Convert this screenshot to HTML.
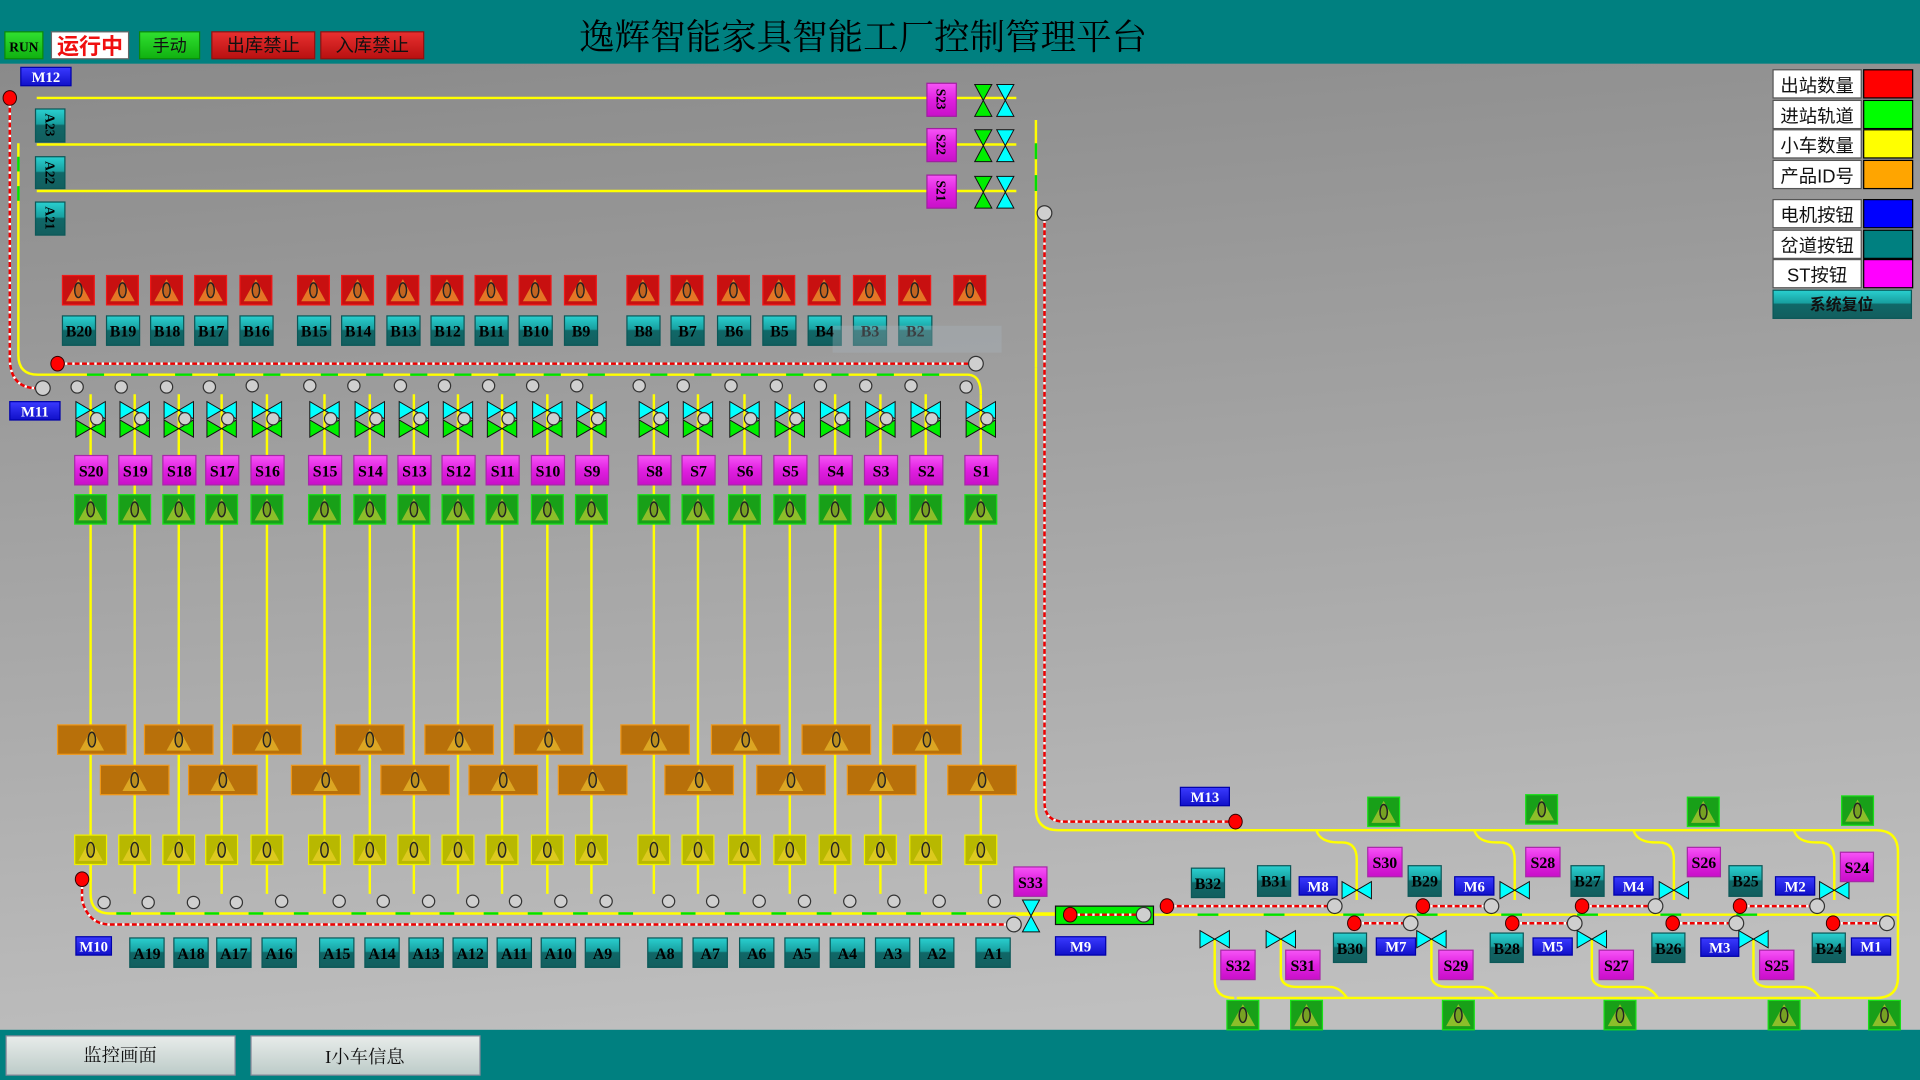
<!DOCTYPE html>
<html><head><meta charset="utf-8"><style>
html,body{margin:0;padding:0;width:1920px;height:1080px;overflow:hidden;background:#888}
svg{display:block}
.t{font-family:"Liberation Serif","Noto Serif CJK SC",serif;font-weight:bold;font-size:13px;text-anchor:middle;fill:#000}
.w{fill:#fff}
.c{font-family:"Liberation Sans","Noto Sans CJK SC",sans-serif;font-size:15px;text-anchor:middle;fill:#111}
</style></head><body>
<svg width="1920" height="1080" viewBox="0 0 1568 882" xmlns="http://www.w3.org/2000/svg">
<defs>
<linearGradient id="bg" x1="0" y1="0" x2="0.15" y2="1"><stop offset="0" stop-color="#878787"/><stop offset="1" stop-color="#bfbfbf"/></linearGradient>
<linearGradient id="gt" x1="0" y1="0" x2="0" y2="1"><stop offset="0" stop-color="#2ad0d0"/><stop offset="0.45" stop-color="#18a0a0"/><stop offset="0.5" stop-color="#106868"/><stop offset="1" stop-color="#125e5e"/></linearGradient>
<linearGradient id="gm" x1="0" y1="0" x2="0" y2="1"><stop offset="0" stop-color="#f655f6"/><stop offset="0.5" stop-color="#e020e0"/><stop offset="1" stop-color="#c810c8"/></linearGradient>
<linearGradient id="gb" x1="0" y1="0" x2="0" y2="1"><stop offset="0" stop-color="#3a3aff"/><stop offset="1" stop-color="#1010c8"/></linearGradient>
<linearGradient id="gg" x1="0" y1="0" x2="0" y2="1"><stop offset="0" stop-color="#30e030"/><stop offset="1" stop-color="#10b010"/></linearGradient>
<linearGradient id="gr" x1="0" y1="0" x2="0" y2="1"><stop offset="0" stop-color="#e83030"/><stop offset="1" stop-color="#b81010"/></linearGradient>
<linearGradient id="gw" x1="0" y1="0" x2="0" y2="1"><stop offset="0" stop-color="#e8ecea"/><stop offset="1" stop-color="#bccbc8"/></linearGradient>
<g id="ic"><polygon points="0,-9 -10,9 10,9" fill="rgba(255,220,60,0.5)"/><ellipse cx="0" cy="0" rx="3" ry="6" fill="rgba(0,0,0,0.15)" stroke="#222" stroke-width="1.2"/></g>
<g id="rb"><rect x="-13" y="-12" width="26" height="24" fill="#c81010" stroke="#f01818"/><use href="#ic"/></g>
<g id="gb2"><rect x="-13" y="-12" width="26" height="24" fill="#18a018" stroke="#18e018"/><use href="#ic"/></g>
<g id="yb"><rect x="-13" y="-12" width="26" height="24" fill="#b8b800" stroke="#f0f000"/><use href="#ic"/></g>
<g id="ob"><rect x="-28" y="-12" width="56" height="24" fill="#b8700a" stroke="#f09818"/><use href="#ic"/></g>
<g id="vc"><polygon points="-12,-7 -12,7 0,0" fill="#00ffff" stroke="#111" stroke-width="0.8"/><polygon points="12,-7 12,7 0,0" fill="#00ffff" stroke="#111" stroke-width="0.8"/></g>
<g id="vg"><polygon points="-12,-7 -12,7 0,0" fill="#00ee00" stroke="#111" stroke-width="0.8"/><polygon points="12,-7 12,7 0,0" fill="#00ee00" stroke="#111" stroke-width="0.8"/></g>
<g id="hg"><polygon points="-7,-13 7,-13 0,0" fill="#00ee00" stroke="#111" stroke-width="0.8"/><polygon points="-7,13 7,13 0,0" fill="#00ee00" stroke="#111" stroke-width="0.8"/></g>
<g id="hc"><polygon points="-7,-13 7,-13 0,0" fill="#00ffff" stroke="#111" stroke-width="0.8"/><polygon points="-7,13 7,13 0,0" fill="#00ffff" stroke="#111" stroke-width="0.8"/></g>
<g id="gc"><circle r="5" fill="#cfcfcf" stroke="#333" stroke-width="1"/></g>
<g id="gC"><circle r="6" fill="#cfcfcf" stroke="#333" stroke-width="1"/></g>
<g id="rd"><ellipse rx="5.5" ry="6" fill="#f00" stroke="#300" stroke-width="0.8"/></g>
</defs>

<!-- background -->
<rect x="0" y="0" width="1568" height="882" fill="url(#bg)"/>
<rect x="0" y="0" width="1568" height="52" fill="#008080"/>
<rect x="0" y="841" width="1568" height="41" fill="#008080"/>

<!-- header -->
<rect x="4" y="26" width="31" height="22" fill="url(#gg)" stroke="#0a8a0a"/>
<text x="19.5" y="42" class="t" style="font-size:11px">RUN</text>
<rect x="42" y="26" width="63" height="22" fill="#fff" stroke="#666"/>
<text x="73.5" y="44" style="font-family:'Liberation Sans','Noto Sans CJK SC',sans-serif;font-size:18px;font-weight:bold;fill:#f01010;text-anchor:middle">运行中</text>
<rect x="114" y="26" width="49" height="22" fill="url(#gg)" stroke="#0a8a0a"/>
<text x="138.5" y="42" class="c" style="font-size:14px">手动</text>
<rect x="173" y="26" width="84" height="22" fill="url(#gr)" stroke="#901010"/>
<text x="215" y="42" class="c" style="font-size:15px">出库禁止</text>
<rect x="262" y="26" width="84" height="22" fill="url(#gr)" stroke="#901010"/>
<text x="304" y="42" class="c" style="font-size:15px">入库禁止</text>
<text x="473" y="40" style="font-family:'Noto Serif CJK SC','WenQuanYi Zen Hei',serif;font-size:29px;fill:#000">逸辉智能家具智能工厂控制管理平台</text>

<!-- bottom buttons -->
<rect x="5" y="846" width="187" height="32" fill="url(#gw)" stroke="#889"/>
<text x="98" y="867" class="c" style="font-family:'Noto Serif CJK SC',serif">监控画面</text>
<rect x="205" y="846" width="187" height="32" fill="url(#gw)" stroke="#889"/>
<text x="298" y="868" class="c" style="font-family:'Liberation Serif','Noto Serif CJK SC',serif">I小车信息</text>

<!-- legend -->
<g stroke="#555" stroke-width="1">
<rect x="1448" y="57" width="72" height="23" fill="#fff"/><rect x="1522" y="57" width="40" height="23" fill="#f00" stroke="#000"/>
<rect x="1448" y="82" width="72" height="23" fill="#fff"/><rect x="1522" y="82" width="40" height="23" fill="#0f0" stroke="#000"/>
<rect x="1448" y="106" width="72" height="23" fill="#fff"/><rect x="1522" y="106" width="40" height="23" fill="#ff0" stroke="#000"/>
<rect x="1448" y="131" width="72" height="23" fill="#fff"/><rect x="1522" y="131" width="40" height="23" fill="#ffa500" stroke="#000"/>
<rect x="1448" y="163" width="72" height="23" fill="#fff"/><rect x="1522" y="163" width="40" height="23" fill="#00f" stroke="#000"/>
<rect x="1448" y="188" width="72" height="23" fill="#fff"/><rect x="1522" y="188" width="40" height="23" fill="#008080" stroke="#000"/>
<rect x="1448" y="212" width="72" height="23" fill="#fff"/><rect x="1522" y="212" width="40" height="23" fill="#f0f" stroke="#000"/>
</g>
<text x="1484" y="75" class="c">出站数量</text>
<text x="1484" y="100" class="c">进站轨道</text>
<text x="1484" y="124" class="c">小车数量</text>
<text x="1484" y="149" class="c">产品ID号</text>
<text x="1484" y="181" class="c">电机按钮</text>
<text x="1484" y="206" class="c">岔道按钮</text>
<text x="1484" y="230" class="c">ST按钮</text>
<rect x="1448" y="237" width="113" height="23" fill="url(#gt)" stroke="#0b5858"/>
<text x="1504" y="253" class="c" style="font-size:13px;font-weight:bold">系统复位</text>

<!-- top-left section lines -->
<g stroke="#ffff00" stroke-width="2" fill="none">
<line x1="30" y1="80" x2="830" y2="80"/><line x1="30" y1="118" x2="830" y2="118"/><line x1="30" y1="156" x2="830" y2="156"/>
<path d="M15 117 V290 Q15 306 31 306 H790 Q801 306 801 322"/>
<line x1="846" y1="98" x2="846" y2="300"/>
</g>
<g stroke="#00e000" stroke-width="2">
<line x1="15" y1="128" x2="15" y2="140"/><line x1="15" y1="152" x2="15" y2="164"/>
<line x1="846" y1="117" x2="846" y2="130"/><line x1="846" y1="143" x2="846" y2="156"/>
</g>
<!-- red dashed top -->
<g fill="none" stroke-width="2">
<path d="M8 80 V292 Q8 317 30 317" stroke="#e00"/>
<path d="M8 80 V292 Q8 317 30 317" stroke="#fff" stroke-dasharray="2 4"/>
<line x1="47" y1="297" x2="797" y2="297" stroke="#e00"/>
<line x1="47" y1="297" x2="797" y2="297" stroke="#fff" stroke-dasharray="2 4"/>
<path d="M853 180 V655 Q853 671 869 671 H1009" stroke="#e00"/>
<path d="M853 180 V655 Q853 671 869 671 H1009" stroke="#fff" stroke-dasharray="2 4"/>
</g>
<use href="#rd" x="8" y="80"/><use href="#gC" x="35" y="317"/><use href="#rd" x="47" y="297"/><use href="#gC" x="797" y="297"/><use href="#gC" x="853" y="174"/>

<rect x="17" y="55" width="41" height="15" fill="url(#gb)" stroke="#00a"/><text x="37.5" y="67" class="t w" style="font-size:12px">M12</text>
<rect x="8" y="328" width="41" height="15" fill="url(#gb)" stroke="#00a"/><text x="28.5" y="340" class="t w" style="font-size:12px">M11</text>

<!-- A21-23 vertical -->
<g><rect x="29" y="89" width="24" height="27" fill="url(#gt)" stroke="#0b5858"/><text class="t" style="font-size:11px" transform="translate(37 102) rotate(90)">A23</text></g>
<g><rect x="29" y="128" width="24" height="26" fill="url(#gt)" stroke="#0b5858"/><text class="t" style="font-size:11px" transform="translate(37 141) rotate(90)">A22</text></g>
<g><rect x="29" y="165" width="24" height="27" fill="url(#gt)" stroke="#0b5858"/><text class="t" style="font-size:11px" transform="translate(37 178) rotate(90)">A21</text></g>
<!-- S21-23 -->
<g><rect x="757" y="68" width="24" height="27" fill="url(#gm)" stroke="#a020a0"/><text class="t" style="font-size:11px" transform="translate(765 81) rotate(90)">S23</text></g>
<g><rect x="757" y="105" width="24" height="27" fill="url(#gm)" stroke="#a020a0"/><text class="t" style="font-size:11px" transform="translate(765 118) rotate(90)">S22</text></g>
<g><rect x="757" y="143" width="24" height="27" fill="url(#gm)" stroke="#a020a0"/><text class="t" style="font-size:11px" transform="translate(765 156) rotate(90)">S21</text></g>
<use href="#hg" x="803" y="82"/><use href="#hc" x="821" y="82"/>
<use href="#hg" x="803" y="119"/><use href="#hc" x="821" y="119"/>
<use href="#hg" x="803" y="157"/><use href="#hc" x="821" y="157"/>

<!-- columns vertical lines -->
<g stroke="#ffff00" stroke-width="2">
<line x1="74" y1="322" x2="74" y2="720"/><line x1="110" y1="322" x2="110" y2="730"/><line x1="146" y1="322" x2="146" y2="730"/><line x1="181" y1="322" x2="181" y2="730"/><line x1="218" y1="322" x2="218" y2="730"/>
<line x1="265" y1="322" x2="265" y2="730"/><line x1="302" y1="322" x2="302" y2="730"/><line x1="338" y1="322" x2="338" y2="730"/><line x1="374" y1="322" x2="374" y2="730"/><line x1="410" y1="322" x2="410" y2="730"/><line x1="447" y1="322" x2="447" y2="730"/><line x1="483" y1="322" x2="483" y2="730"/>
<line x1="534" y1="322" x2="534" y2="730"/><line x1="570" y1="322" x2="570" y2="730"/><line x1="608" y1="322" x2="608" y2="730"/><line x1="645" y1="322" x2="645" y2="730"/><line x1="682" y1="322" x2="682" y2="730"/><line x1="719" y1="322" x2="719" y2="730"/><line x1="756" y1="322" x2="756" y2="730"/><line x1="801" y1="322" x2="801" y2="730"/>
</g>
<!-- green dashes top track -->
<g stroke="#00e000" stroke-width="2">
<line x1="71" y1="306" x2="85" y2="306"/><line x1="107" y1="306" x2="121" y2="306"/><line x1="143" y1="306" x2="157" y2="306"/><line x1="178" y1="306" x2="192" y2="306"/><line x1="215" y1="306" x2="229" y2="306"/>
<line x1="262" y1="306" x2="276" y2="306"/><line x1="299" y1="306" x2="313" y2="306"/><line x1="335" y1="306" x2="349" y2="306"/><line x1="371" y1="306" x2="385" y2="306"/><line x1="407" y1="306" x2="421" y2="306"/><line x1="444" y1="306" x2="458" y2="306"/><line x1="480" y1="306" x2="494" y2="306"/>
<line x1="531" y1="306" x2="545" y2="306"/><line x1="567" y1="306" x2="581" y2="306"/><line x1="605" y1="306" x2="619" y2="306"/><line x1="642" y1="306" x2="656" y2="306"/><line x1="679" y1="306" x2="693" y2="306"/><line x1="716" y1="306" x2="730" y2="306"/><line x1="753" y1="306" x2="767" y2="306"/>
</g>

<!-- red boxes -->
<use href="#rb" x="64" y="237"/><use href="#rb" x="100" y="237"/><use href="#rb" x="136" y="237"/><use href="#rb" x="172" y="237"/><use href="#rb" x="209" y="237"/>
<use href="#rb" x="256" y="237"/><use href="#rb" x="292" y="237"/><use href="#rb" x="329" y="237"/><use href="#rb" x="365" y="237"/><use href="#rb" x="401" y="237"/><use href="#rb" x="437" y="237"/><use href="#rb" x="474" y="237"/>
<use href="#rb" x="525" y="237"/><use href="#rb" x="561" y="237"/><use href="#rb" x="599" y="237"/><use href="#rb" x="636" y="237"/><use href="#rb" x="673" y="237"/><use href="#rb" x="710" y="237"/><use href="#rb" x="747" y="237"/><use href="#rb" x="792" y="237"/>

<!-- B row -->
<g stroke="#0b5858">
<rect x="51" y="258" width="27" height="24" fill="url(#gt)"/><rect x="87" y="258" width="27" height="24" fill="url(#gt)"/><rect x="123" y="258" width="27" height="24" fill="url(#gt)"/><rect x="159" y="258" width="27" height="24" fill="url(#gt)"/><rect x="196" y="258" width="27" height="24" fill="url(#gt)"/>
<rect x="243" y="258" width="27" height="24" fill="url(#gt)"/><rect x="279" y="258" width="27" height="24" fill="url(#gt)"/><rect x="316" y="258" width="27" height="24" fill="url(#gt)"/><rect x="352" y="258" width="27" height="24" fill="url(#gt)"/><rect x="388" y="258" width="27" height="24" fill="url(#gt)"/><rect x="424" y="258" width="27" height="24" fill="url(#gt)"/><rect x="461" y="258" width="27" height="24" fill="url(#gt)"/>
<rect x="512" y="258" width="27" height="24" fill="url(#gt)"/><rect x="548" y="258" width="27" height="24" fill="url(#gt)"/><rect x="586" y="258" width="27" height="24" fill="url(#gt)"/><rect x="623" y="258" width="27" height="24" fill="url(#gt)"/><rect x="660" y="258" width="27" height="24" fill="url(#gt)"/><rect x="697" y="258" width="27" height="24" fill="url(#gt)"/><rect x="734" y="258" width="27" height="24" fill="url(#gt)"/>
</g>
<g class="t">
<text x="64.5" y="275" class="t">B20</text><text x="100.5" y="275" class="t">B19</text><text x="136.5" y="275" class="t">B18</text><text x="172.5" y="275" class="t">B17</text><text x="209.5" y="275" class="t">B16</text>
<text x="256.5" y="275" class="t">B15</text><text x="292.5" y="275" class="t">B14</text><text x="329.5" y="275" class="t">B13</text><text x="365.5" y="275" class="t">B12</text><text x="401.5" y="275" class="t">B11</text><text x="437.5" y="275" class="t">B10</text><text x="474.5" y="275" class="t">B9</text>
<text x="525.5" y="275" class="t">B8</text><text x="561.5" y="275" class="t">B7</text><text x="599.5" y="275" class="t">B6</text><text x="636.5" y="275" class="t">B5</text><text x="673.5" y="275" class="t">B4</text><text x="710.5" y="275" class="t">B3</text><text x="747.5" y="275" class="t">B2</text>
</g>
<rect x="680" y="266" width="138" height="22" fill="#a8b4be" opacity="0.35"/>

<!-- small circles row top -->
<use href="#gc" x="63" y="316"/><use href="#gc" x="99" y="316"/><use href="#gc" x="136" y="316"/><use href="#gc" x="171" y="316"/><use href="#gc" x="206" y="315"/>
<use href="#gc" x="253" y="315"/><use href="#gc" x="289" y="315"/><use href="#gc" x="327" y="315"/><use href="#gc" x="363" y="315"/><use href="#gc" x="399" y="315"/><use href="#gc" x="435" y="315"/><use href="#gc" x="471" y="315"/>
<use href="#gc" x="522" y="315"/><use href="#gc" x="558" y="315"/><use href="#gc" x="597" y="315"/><use href="#gc" x="634" y="315"/><use href="#gc" x="670" y="315"/><use href="#gc" x="707" y="315"/><use href="#gc" x="744" y="315"/><use href="#gc" x="789" y="316"/>

<!-- valves columns -->
<g>
<use href="#vc" x="74" y="335"/><use href="#vg" x="74" y="350"/><use href="#gc" x="79" y="342"/>
<use href="#vc" x="110" y="335"/><use href="#vg" x="110" y="350"/><use href="#gc" x="115" y="342"/>
<use href="#vc" x="146" y="335"/><use href="#vg" x="146" y="350"/><use href="#gc" x="151" y="342"/>
<use href="#vc" x="181" y="335"/><use href="#vg" x="181" y="350"/><use href="#gc" x="186" y="342"/>
<use href="#vc" x="218" y="335"/><use href="#vg" x="218" y="350"/><use href="#gc" x="223" y="342"/>
<use href="#vc" x="265" y="335"/><use href="#vg" x="265" y="350"/><use href="#gc" x="270" y="342"/>
<use href="#vc" x="302" y="335"/><use href="#vg" x="302" y="350"/><use href="#gc" x="307" y="342"/>
<use href="#vc" x="338" y="335"/><use href="#vg" x="338" y="350"/><use href="#gc" x="343" y="342"/>
<use href="#vc" x="374" y="335"/><use href="#vg" x="374" y="350"/><use href="#gc" x="379" y="342"/>
<use href="#vc" x="410" y="335"/><use href="#vg" x="410" y="350"/><use href="#gc" x="415" y="342"/>
<use href="#vc" x="447" y="335"/><use href="#vg" x="447" y="350"/><use href="#gc" x="452" y="342"/>
<use href="#vc" x="483" y="335"/><use href="#vg" x="483" y="350"/><use href="#gc" x="488" y="342"/>
<use href="#vc" x="534" y="335"/><use href="#vg" x="534" y="350"/><use href="#gc" x="539" y="342"/>
<use href="#vc" x="570" y="335"/><use href="#vg" x="570" y="350"/><use href="#gc" x="575" y="342"/>
<use href="#vc" x="608" y="335"/><use href="#vg" x="608" y="350"/><use href="#gc" x="613" y="342"/>
<use href="#vc" x="645" y="335"/><use href="#vg" x="645" y="350"/><use href="#gc" x="650" y="342"/>
<use href="#vc" x="682" y="335"/><use href="#vg" x="682" y="350"/><use href="#gc" x="687" y="342"/>
<use href="#vc" x="719" y="335"/><use href="#vg" x="719" y="350"/><use href="#gc" x="724" y="342"/>
<use href="#vc" x="756" y="335"/><use href="#vg" x="756" y="350"/><use href="#gc" x="761" y="342"/>
<use href="#vc" x="801" y="335"/><use href="#vg" x="801" y="350"/><use href="#gc" x="806" y="342"/>
</g>

<!-- S boxes -->
<g stroke="#a828a8">
<rect x="61" y="372" width="27" height="24" fill="url(#gm)"/><rect x="97" y="372" width="27" height="24" fill="url(#gm)"/><rect x="133" y="372" width="27" height="24" fill="url(#gm)"/><rect x="168" y="372" width="27" height="24" fill="url(#gm)"/><rect x="205" y="372" width="27" height="24" fill="url(#gm)"/>
<rect x="252" y="372" width="27" height="24" fill="url(#gm)"/><rect x="289" y="372" width="27" height="24" fill="url(#gm)"/><rect x="325" y="372" width="27" height="24" fill="url(#gm)"/><rect x="361" y="372" width="27" height="24" fill="url(#gm)"/><rect x="397" y="372" width="27" height="24" fill="url(#gm)"/><rect x="434" y="372" width="27" height="24" fill="url(#gm)"/><rect x="470" y="372" width="27" height="24" fill="url(#gm)"/>
<rect x="521" y="372" width="27" height="24" fill="url(#gm)"/><rect x="557" y="372" width="27" height="24" fill="url(#gm)"/><rect x="595" y="372" width="27" height="24" fill="url(#gm)"/><rect x="632" y="372" width="27" height="24" fill="url(#gm)"/><rect x="669" y="372" width="27" height="24" fill="url(#gm)"/><rect x="706" y="372" width="27" height="24" fill="url(#gm)"/><rect x="743" y="372" width="27" height="24" fill="url(#gm)"/><rect x="788" y="372" width="27" height="24" fill="url(#gm)"/>
</g>
<text x="74.5" y="389" class="t">S20</text><text x="110.5" y="389" class="t">S19</text><text x="146.5" y="389" class="t">S18</text><text x="181.5" y="389" class="t">S17</text><text x="218.5" y="389" class="t">S16</text>
<text x="265.5" y="389" class="t">S15</text><text x="302.5" y="389" class="t">S14</text><text x="338.5" y="389" class="t">S13</text><text x="374.5" y="389" class="t">S12</text><text x="410.5" y="389" class="t">S11</text><text x="447.5" y="389" class="t">S10</text><text x="483.5" y="389" class="t">S9</text>
<text x="534.5" y="389" class="t">S8</text><text x="570.5" y="389" class="t">S7</text><text x="608.5" y="389" class="t">S6</text><text x="645.5" y="389" class="t">S5</text><text x="682.5" y="389" class="t">S4</text><text x="719.5" y="389" class="t">S3</text><text x="756.5" y="389" class="t">S2</text><text x="801.5" y="389" class="t">S1</text>

<!-- green boxes -->
<use href="#gb2" x="74" y="416"/><use href="#gb2" x="110" y="416"/><use href="#gb2" x="146" y="416"/><use href="#gb2" x="181" y="416"/><use href="#gb2" x="218" y="416"/>
<use href="#gb2" x="265" y="416"/><use href="#gb2" x="302" y="416"/><use href="#gb2" x="338" y="416"/><use href="#gb2" x="374" y="416"/><use href="#gb2" x="410" y="416"/><use href="#gb2" x="447" y="416"/><use href="#gb2" x="483" y="416"/>
<use href="#gb2" x="534" y="416"/><use href="#gb2" x="570" y="416"/><use href="#gb2" x="608" y="416"/><use href="#gb2" x="645" y="416"/><use href="#gb2" x="682" y="416"/><use href="#gb2" x="719" y="416"/><use href="#gb2" x="756" y="416"/><use href="#gb2" x="801" y="416"/>

<!-- orange boxes -->
<use href="#ob" x="75" y="604"/><use href="#ob" x="146" y="604"/><use href="#ob" x="218" y="604"/><use href="#ob" x="302" y="604"/><use href="#ob" x="375" y="604"/><use href="#ob" x="448" y="604"/><use href="#ob" x="535" y="604"/><use href="#ob" x="609" y="604"/><use href="#ob" x="683" y="604"/><use href="#ob" x="757" y="604"/>
<use href="#ob" x="110" y="637"/><use href="#ob" x="182" y="637"/><use href="#ob" x="266" y="637"/><use href="#ob" x="339" y="637"/><use href="#ob" x="411" y="637"/><use href="#ob" x="484" y="637"/><use href="#ob" x="571" y="637"/><use href="#ob" x="646" y="637"/><use href="#ob" x="720" y="637"/><use href="#ob" x="802" y="637"/>

<!-- yellow boxes -->
<use href="#yb" x="74" y="694"/><use href="#yb" x="110" y="694"/><use href="#yb" x="146" y="694"/><use href="#yb" x="181" y="694"/><use href="#yb" x="218" y="694"/>
<use href="#yb" x="265" y="694"/><use href="#yb" x="302" y="694"/><use href="#yb" x="338" y="694"/><use href="#yb" x="374" y="694"/><use href="#yb" x="410" y="694"/><use href="#yb" x="447" y="694"/><use href="#yb" x="483" y="694"/>
<use href="#yb" x="534" y="694"/><use href="#yb" x="570" y="694"/><use href="#yb" x="608" y="694"/><use href="#yb" x="645" y="694"/><use href="#yb" x="682" y="694"/><use href="#yb" x="719" y="694"/><use href="#yb" x="756" y="694"/><use href="#yb" x="801" y="694"/>

<!-- bottom track -->
<g fill="none" stroke-width="2">
<path d="M74 706 V730 Q74 746 90 746 H862" stroke="#ff0"/>
<path d="M67 718 V735 Q72 755 90 755 H828" stroke="#e00"/>
<path d="M67 718 V735 Q72 755 90 755 H828" stroke="#fff" stroke-dasharray="2 4"/>
</g>
<g stroke="#00e000" stroke-width="2">
<line x1="95" y1="746" x2="107" y2="746"/><line x1="131" y1="746" x2="143" y2="746"/><line x1="167" y1="746" x2="179" y2="746"/><line x1="203" y1="746" x2="215" y2="746"/><line x1="240" y1="746" x2="252" y2="746"/>
<line x1="287" y1="746" x2="299" y2="746"/><line x1="323" y1="746" x2="335" y2="746"/><line x1="359" y1="746" x2="371" y2="746"/><line x1="395" y1="746" x2="407" y2="746"/><line x1="431" y1="746" x2="443" y2="746"/><line x1="468" y1="746" x2="480" y2="746"/><line x1="505" y1="746" x2="517" y2="746"/>
<line x1="556" y1="746" x2="568" y2="746"/><line x1="592" y1="746" x2="604" y2="746"/><line x1="630" y1="746" x2="642" y2="746"/><line x1="667" y1="746" x2="679" y2="746"/><line x1="704" y1="746" x2="716" y2="746"/><line x1="740" y1="746" x2="752" y2="746"/><line x1="777" y1="746" x2="789" y2="746"/>
</g>
<use href="#rd" x="67" y="718"/>
<use href="#gc" x="85" y="737"/><use href="#gc" x="121" y="737"/><use href="#gc" x="158" y="737"/><use href="#gc" x="193" y="737"/><use href="#gc" x="230" y="736"/>
<use href="#gc" x="277" y="736"/><use href="#gc" x="313" y="736"/><use href="#gc" x="350" y="736"/><use href="#gc" x="386" y="736"/><use href="#gc" x="421" y="736"/><use href="#gc" x="458" y="736"/><use href="#gc" x="495" y="736"/>
<use href="#gc" x="546" y="736"/><use href="#gc" x="582" y="736"/><use href="#gc" x="620" y="736"/><use href="#gc" x="657" y="736"/><use href="#gc" x="694" y="736"/><use href="#gc" x="730" y="736"/><use href="#gc" x="767" y="736"/><use href="#gc" x="812" y="736"/>
<use href="#gC" x="828" y="755"/>

<rect x="62" y="765" width="29" height="15" fill="url(#gb)" stroke="#00a"/><text x="76.5" y="777" class="t w" style="font-size:12px">M10</text>

<!-- A row -->
<g stroke="#0b5858">
<rect x="106" y="766" width="28" height="24" fill="url(#gt)"/><rect x="142" y="766" width="28" height="24" fill="url(#gt)"/><rect x="177" y="766" width="28" height="24" fill="url(#gt)"/><rect x="214" y="766" width="28" height="24" fill="url(#gt)"/>
<rect x="261" y="766" width="28" height="24" fill="url(#gt)"/><rect x="298" y="766" width="28" height="24" fill="url(#gt)"/><rect x="334" y="766" width="28" height="24" fill="url(#gt)"/><rect x="370" y="766" width="28" height="24" fill="url(#gt)"/><rect x="406" y="766" width="28" height="24" fill="url(#gt)"/><rect x="442" y="766" width="28" height="24" fill="url(#gt)"/><rect x="478" y="766" width="28" height="24" fill="url(#gt)"/>
<rect x="529" y="766" width="28" height="24" fill="url(#gt)"/><rect x="566" y="766" width="28" height="24" fill="url(#gt)"/><rect x="604" y="766" width="28" height="24" fill="url(#gt)"/><rect x="641" y="766" width="28" height="24" fill="url(#gt)"/><rect x="678" y="766" width="28" height="24" fill="url(#gt)"/><rect x="715" y="766" width="28" height="24" fill="url(#gt)"/><rect x="751" y="766" width="28" height="24" fill="url(#gt)"/><rect x="797" y="766" width="28" height="24" fill="url(#gt)"/>
</g>
<text x="120" y="783" class="t">A19</text><text x="156" y="783" class="t">A18</text><text x="191" y="783" class="t">A17</text><text x="228" y="783" class="t">A16</text>
<text x="275" y="783" class="t">A15</text><text x="312" y="783" class="t">A14</text><text x="348" y="783" class="t">A13</text><text x="384" y="783" class="t">A12</text><text x="420" y="783" class="t">A11</text><text x="456" y="783" class="t">A10</text><text x="492" y="783" class="t">A9</text>
<text x="543" y="783" class="t">A8</text><text x="580" y="783" class="t">A7</text><text x="618" y="783" class="t">A6</text><text x="655" y="783" class="t">A5</text><text x="692" y="783" class="t">A4</text><text x="729" y="783" class="t">A3</text><text x="765" y="783" class="t">A2</text><text x="811" y="783" class="t">A1</text>

<!-- right section yellow -->
<g stroke="#ffff00" stroke-width="2" fill="none">
<path d="M846 300 V660 Q846 678 864 678 H1532 Q1550 678 1550 696 V798 Q1550 815 1532 815 H1010"/>
<line x1="942" y1="747" x2="1550" y2="747"/>
<path d="M1075 678 Q1078 688 1093 688 H1096 Q1108 688 1108 702 V735"/>
<path d="M1204 678 Q1207 688 1222 688 H1225 Q1237 688 1237 702 V735"/>
<path d="M1334 678 Q1337 688 1352 688 H1355 Q1367 688 1367 702 V735"/>
<path d="M1465 678 Q1468 688 1483 688 H1486 Q1498 688 1498 702 V735"/>
<path d="M992 767 V800 Q992 815 1008 815"/>
<path d="M1046 767 V796 Q1046 806 1060 806 H1086 Q1094 806 1100 815"/>
<path d="M1169 767 V796 Q1169 806 1183 806 H1209 Q1217 806 1223 815"/>
<path d="M1300 767 V796 Q1300 806 1314 806 H1340 Q1348 806 1354 815"/>
<path d="M1432 767 V796 Q1432 806 1446 806 H1472 Q1480 806 1486 815"/>
</g>
<g stroke="#00e000" stroke-width="2">
<line x1="978" y1="747" x2="995" y2="747"/><line x1="1032" y1="747" x2="1049" y2="747"/><line x1="1097" y1="747" x2="1114" y2="747"/><line x1="1157" y1="747" x2="1174" y2="747"/><line x1="1226" y1="747" x2="1243" y2="747"/><line x1="1288" y1="747" x2="1305" y2="747"/><line x1="1356" y1="747" x2="1373" y2="747"/><line x1="1418" y1="747" x2="1435" y2="747"/>
</g>
<!-- red dashed right -->
<g stroke-width="2">
<g stroke="#e00"><line x1="953" y1="740" x2="1090" y2="740"/><line x1="1162" y1="740" x2="1218" y2="740"/><line x1="1292" y1="740" x2="1352" y2="740"/><line x1="1421" y1="740" x2="1484" y2="740"/>
<line x1="1106" y1="754" x2="1152" y2="754"/><line x1="1235" y1="754" x2="1286" y2="754"/><line x1="1366" y1="754" x2="1418" y2="754"/><line x1="1497" y1="754" x2="1541" y2="754"/></g>
<g stroke="#fff" stroke-dasharray="2 4"><line x1="953" y1="740" x2="1090" y2="740"/><line x1="1162" y1="740" x2="1218" y2="740"/><line x1="1292" y1="740" x2="1352" y2="740"/><line x1="1421" y1="740" x2="1484" y2="740"/>
<line x1="1106" y1="754" x2="1152" y2="754"/><line x1="1235" y1="754" x2="1286" y2="754"/><line x1="1366" y1="754" x2="1418" y2="754"/><line x1="1497" y1="754" x2="1541" y2="754"/></g>
</g>
<use href="#rd" x="953" y="740"/><use href="#gC" x="1090" y="740"/><use href="#rd" x="1162" y="740"/><use href="#gC" x="1218" y="740"/><use href="#rd" x="1292" y="740"/><use href="#gC" x="1352" y="740"/><use href="#rd" x="1421" y="740"/><use href="#gC" x="1484" y="740"/>
<use href="#rd" x="1106" y="754"/><use href="#gC" x="1152" y="754"/><use href="#rd" x="1235" y="754"/><use href="#gC" x="1286" y="754"/><use href="#rd" x="1366" y="754"/><use href="#gC" x="1418" y="754"/><use href="#rd" x="1497" y="754"/><use href="#gC" x="1541" y="754"/>
<use href="#rd" x="1009" y="671"/>

<!-- conveyor and S33 -->
<line x1="830" y1="747" x2="862" y2="747" stroke="#ff0" stroke-width="2"/>
<rect x="862" y="740" width="80" height="15" fill="#00ee00" stroke="#111"/>
<line x1="874" y1="747" x2="934" y2="747" stroke="#e00" stroke-width="2"/><line x1="874" y1="747" x2="934" y2="747" stroke="#fff" stroke-width="2" stroke-dasharray="2 4"/>
<use href="#rd" x="874" y="747"/><use href="#gC" x="934" y="747"/>
<use href="#hc" x="842" y="748"/>
<rect x="828" y="708" width="27" height="24" fill="url(#gm)" stroke="#a828a8"/><text x="841.5" y="725" class="t">S33</text>
<rect x="862" y="765" width="41" height="15" fill="url(#gb)" stroke="#00a"/><text x="882.5" y="777" class="t w" style="font-size:12px">M9</text>
<rect x="964" y="643" width="40" height="15" fill="url(#gb)" stroke="#00a"/><text x="984" y="655" class="t w" style="font-size:12px">M13</text>

<!-- right valves -->
<use href="#vc" x="1108" y="727"/><use href="#vc" x="1237" y="727"/><use href="#vc" x="1367" y="727"/><use href="#vc" x="1498" y="727"/>
<use href="#vc" x="992" y="767"/><use href="#vc" x="1046" y="767"/><use href="#vc" x="1169" y="767"/><use href="#vc" x="1300" y="767"/><use href="#vc" x="1432" y="767"/>

<!-- right B boxes -->
<g stroke="#0b5858">
<rect x="973" y="709" width="27" height="24" fill="url(#gt)"/><rect x="1027" y="707" width="27" height="25" fill="url(#gt)"/><rect x="1150" y="707" width="27" height="25" fill="url(#gt)"/><rect x="1283" y="707" width="27" height="25" fill="url(#gt)"/><rect x="1412" y="707" width="27" height="25" fill="url(#gt)"/>
<rect x="1089" y="762" width="27" height="24" fill="url(#gt)"/><rect x="1217" y="762" width="27" height="24" fill="url(#gt)"/><rect x="1349" y="762" width="27" height="24" fill="url(#gt)"/><rect x="1480" y="762" width="27" height="24" fill="url(#gt)"/>
</g>
<text x="986.5" y="726" class="t">B32</text><text x="1040.5" y="724" class="t">B31</text><text x="1163.5" y="724" class="t">B29</text><text x="1296.5" y="724" class="t">B27</text><text x="1425.5" y="724" class="t">B25</text>
<text x="1102.5" y="779" class="t">B30</text><text x="1230.5" y="779" class="t">B28</text><text x="1362.5" y="779" class="t">B26</text><text x="1493.5" y="779" class="t">B24</text>
<!-- right M -->
<g stroke="#00a">
<rect x="1061" y="716" width="31" height="15" fill="url(#gb)"/><rect x="1188" y="716" width="32" height="15" fill="url(#gb)"/><rect x="1318" y="716" width="32" height="15" fill="url(#gb)"/><rect x="1450" y="716" width="32" height="15" fill="url(#gb)"/>
<rect x="1124" y="766" width="32" height="14" fill="url(#gb)"/><rect x="1252" y="766" width="32" height="14" fill="url(#gb)"/><rect x="1389" y="766" width="31" height="15" fill="url(#gb)"/><rect x="1512" y="766" width="32" height="14" fill="url(#gb)"/>
</g>
<g style="font-size:12px">
<text x="1076.5" y="728" class="t w" style="font-size:12px">M8</text><text x="1204" y="728" class="t w" style="font-size:12px">M6</text><text x="1334" y="728" class="t w" style="font-size:12px">M4</text><text x="1466" y="728" class="t w" style="font-size:12px">M2</text>
<text x="1140" y="777" class="t w" style="font-size:12px">M7</text><text x="1268" y="777" class="t w" style="font-size:12px">M5</text><text x="1404.5" y="778" class="t w" style="font-size:12px">M3</text><text x="1528" y="777" class="t w" style="font-size:12px">M1</text>
</g>
<!-- right S -->
<g stroke="#a828a8">
<rect x="1117" y="692" width="28" height="24" fill="url(#gm)"/><rect x="1246" y="692" width="28" height="24" fill="url(#gm)"/><rect x="1378" y="692" width="27" height="24" fill="url(#gm)"/><rect x="1503" y="696" width="27" height="24" fill="url(#gm)"/>
<rect x="997" y="776" width="28" height="24" fill="url(#gm)"/><rect x="1050" y="776" width="28" height="24" fill="url(#gm)"/><rect x="1175" y="776" width="28" height="24" fill="url(#gm)"/><rect x="1306" y="776" width="28" height="24" fill="url(#gm)"/><rect x="1437" y="776" width="28" height="24" fill="url(#gm)"/>
</g>
<text x="1131" y="709" class="t">S30</text><text x="1260" y="709" class="t">S28</text><text x="1391.5" y="709" class="t">S26</text><text x="1516.5" y="713" class="t">S24</text>
<text x="1011" y="793" class="t">S32</text><text x="1064" y="793" class="t">S31</text><text x="1189" y="793" class="t">S29</text><text x="1320" y="793" class="t">S27</text><text x="1451" y="793" class="t">S25</text>
<!-- right green boxes -->
<use href="#gb2" x="1130" y="663"/><use href="#gb2" x="1259" y="661"/><use href="#gb2" x="1391" y="663"/><use href="#gb2" x="1517" y="662"/>
<use href="#gb2" x="1015" y="829"/><use href="#gb2" x="1067" y="829"/><use href="#gb2" x="1191" y="829"/><use href="#gb2" x="1323" y="829"/><use href="#gb2" x="1457" y="829"/><use href="#gb2" x="1539" y="829"/>
</svg>
</body></html>
